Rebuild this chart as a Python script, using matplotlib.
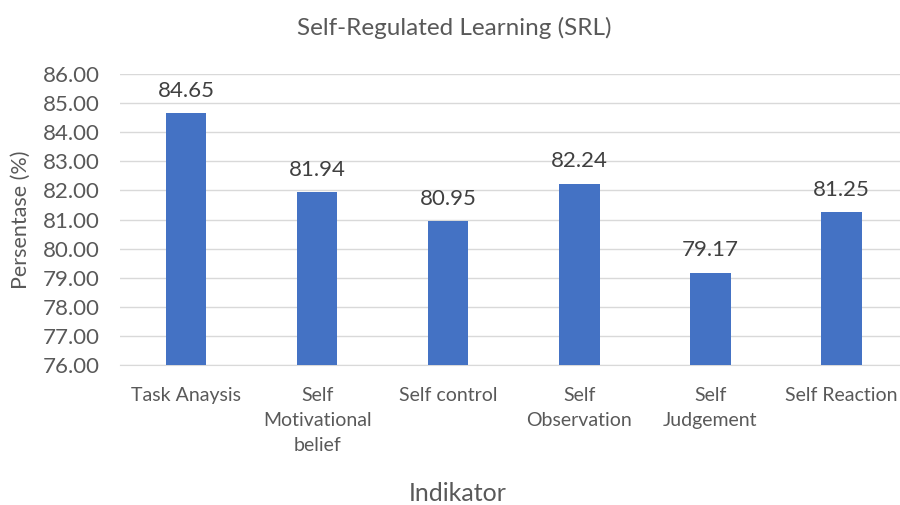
import matplotlib.pyplot as plt
import numpy as np

# data
categories = ["Task Anaysis", "Self\nMotivational\nbelief", "Self control",
              "Self\nObservation", "Self\nJudgement", "Self Reaction"]
values = [84.65, 81.94, 80.95, 82.24, 79.17, 81.25]
yticks = np.arange(76, 87, 1)

plt.rcParams['font.family'] = ['Lato', 'DejaVu Sans']
grey = '#595959'

fig = plt.figure(figsize=(9, 5.05), dpi=100)
ax = fig.add_axes([0.1338, 0.2772, 0.874, 0.576])

x = np.arange(len(categories))
bars = ax.bar(x, values, width=0.31, color='#4472C4', zorder=3)

# value labels above each bar
for xi, v in zip(x, values):
    ax.annotate(f"{v:.2f}", (xi, v), xytext=(0, 9), textcoords='offset points',
                ha='center', va='bottom', fontsize=16, color='#404040')

ax.set_xlim(-0.5, len(categories) - 0.5)
ax.set_ylim(76, 86)
ax.set_yticks(yticks)
ax.set_yticklabels([f"{t:.2f}" for t in yticks], fontsize=16, color=grey)
ax.set_xticks(x)
ax.set_xticklabels(categories, fontsize=14, color=grey, linespacing=1.55, va='top')

ax.grid(axis='y', color='#d9d9d9', linewidth=1, zorder=0)
ax.tick_params(axis='both', length=0)
ax.tick_params(axis='x', pad=16)
ax.tick_params(axis='y', pad=15)
for s in ['top', 'right', 'left']:
    ax.spines[s].set_visible(False)
ax.spines['bottom'].set_color('#d9d9d9')

# axis titles and chart title placed in figure coordinates
fig.text(0.023, 0.565, "Persentase (%)", rotation=90, ha='center', va='center',
         fontsize=15.5, color=grey)
fig.text(0.508, 0.022, "Indikator", ha='center', va='center', fontsize=18, color=grey)
fig.text(0.505, 0.945, "Self-Regulated Learning (SRL)", ha='center', va='center',
         fontsize=17.5, color=grey)

fig.savefig("out.png", dpi=100)
